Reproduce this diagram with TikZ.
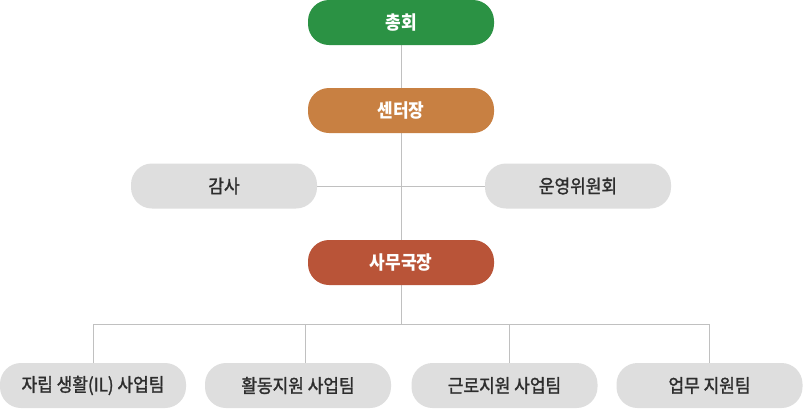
\documentclass[tikz,border=0pt]{standalone}
\usepackage{fontspec}
\setmainfont{Noto Sans CJK KR}
\newfontfamily\medfont{Noto Sans CJK KR}[FakeBold=1.5]
\newfontfamily\whfont{Noto Sans CJK KR Bold}
\usetikzlibrary{backgrounds}
\definecolor{cgreen}{RGB}{43,146,68}
\definecolor{corange}{RGB}{200,128,66}
\definecolor{cred}{RGB}{185,84,56}
\definecolor{cgray}{RGB}{222,222,222}
\definecolor{cline}{RGB}{192,192,192}
\definecolor{ctext}{RGB}{45,45,45}
\newcommand{\lbl}[1]{\scalebox{1}[1.1]{#1}}
\tikzset{
  box/.style={rounded corners=21pt, minimum width=186pt, minimum height=45pt, inner sep=0pt},
  colbox/.style={box, fill=#1, text=white, font=\fontsize{17}{19}\selectfont\bfseries},
  graybox/.style={box, fill=cgray, text=ctext, font=\fontsize{17}{19}\medfont},
  conn/.style={draw=cline, line width=1pt}
}
\begin{document}
\begin{tikzpicture}[x=1pt,y=-1pt]
\useasboundingbox (0,0) rectangle (803,408);
\node[colbox=cgreen] (top) at (401,22.5) {\lbl{총회}};
\node[colbox=corange] (chief) at (401,110.5) {\lbl{센터장}};
\node[graybox] (audit) at (224,186) {\lbl{감사}};
\node[graybox] (ops) at (578,186) {\lbl{운영위원회}};
\node[colbox=cred] (office) at (401,262.5) {\lbl{사무국장}};
\node[graybox] (b1) at (93,385.5) {\lbl{자립 생활(IL) 사업팀}};
\node[graybox] (b2) at (298,385.5) {\lbl{활동지원 사업팀}};
\node[graybox] (b3) at (504.5,385.5) {\lbl{근로지원 사업팀}};
\node[graybox] (b4) at (709.5,385.5) {\lbl{업무 지원팀}};
\coordinate (bus) at (401,324);
\coordinate (j1) at (93,324);
\coordinate (j2) at (305,324);
\coordinate (j3) at (509,324);
\coordinate (j4) at (709.5,324);
\begin{scope}[on background layer]
\fill[white] (0,0) rectangle (803,408);
\draw[conn] (top) -- (chief);
\draw[conn] (chief) -- (office);
\draw[conn] (audit) -- (ops);
\draw[conn] (office) -- (bus);
\draw[conn] (j1) -- (j4);
\draw[conn] (j1) -- (j1 |- b1.north);
\draw[conn] (j2) -- (j2 |- b2.north);
\draw[conn] (j3) -- (j3 |- b3.north);
\draw[conn] (j4) -- (j4 |- b4.north);
\end{scope}
\end{tikzpicture}
\end{document}
